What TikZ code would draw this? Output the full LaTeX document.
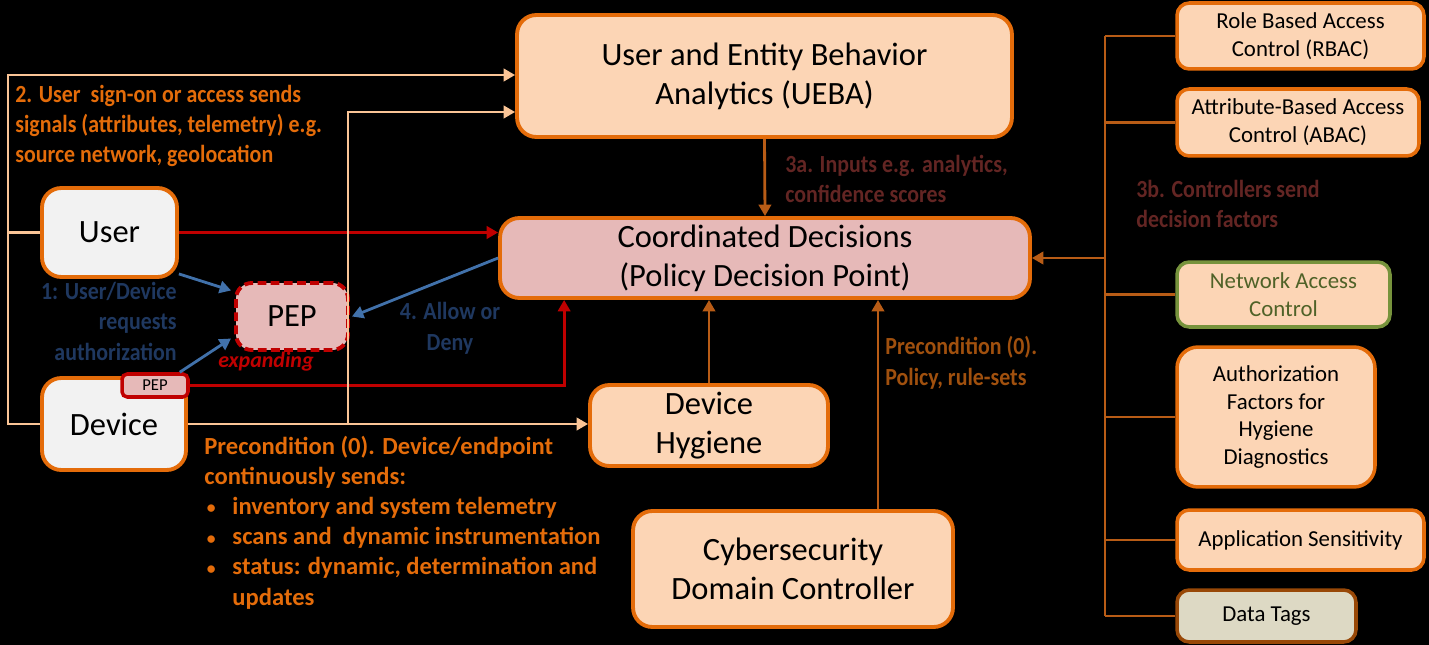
\documentclass[tikz,border=0pt]{standalone}
\usepackage{fontspec}
\setmainfont{Carlito}
\newfontfamily\condfont[FakeStretch=0.89]{Carlito}
\usetikzlibrary{arrows.meta,calc}
\definecolor{cOr}{RGB}{228,108,10}
\definecolor{cPeach}{RGB}{252,213,181}
\definecolor{cPink}{RGB}{230,185,184}
\definecolor{cGray}{RGB}{242,242,242}
\definecolor{cRed}{RGB}{192,0,0}
\definecolor{cBlue}{RGB}{65,113,170}
\definecolor{cNavy}{RGB}{31,56,96}
\definecolor{cMaroon}{RGB}{99,37,35}
\definecolor{cBrown}{RGB}{160,80,14}
\definecolor{cBus}{RGB}{184,92,22}
\definecolor{cSig}{RGB}{250,196,150}
\definecolor{cOlive}{RGB}{119,147,60}
\definecolor{cOliveT}{RGB}{79,98,40}
\definecolor{cTag}{RGB}{221,217,196}
\definecolor{cTagS}{RGB}{152,72,7}
\newcommand\fbig{\fontsize{18.5}{22.2}\selectfont}
\newcommand\fsmall{\fontsize{13}{15.9}\selectfont}
\newcommand\flab{\fontsize{14}{17.1}\selectfont\bfseries}
\newcommand\fcond{\fontsize{14}{17.1}\selectfont\condfont\bfseries}
\newcommand\bul{\makebox[16pt][l]{\hspace{1.5pt}\raisebox{0.5pt}{\fontsize{10}{10}\selectfont•}}}
\begin{document}
\begin{tikzpicture}[x=0.02cm,y=-0.02cm,
  box/.style={draw=cOr, line width=2.2pt, fill=cPeach, rounded corners=11pt, align=center, inner sep=0pt, font=\fbig},
  rbox/.style={box, rounded corners=7pt, font=\fsmall, line width=2pt},
  tipA/.tip={Triangle[length=6.5pt,width=7pt]},
  sig/.style={draw=cSig, line width=1.6pt},
  ctl/.style={draw=cBus, line width=1.6pt},
  redl/.style={draw=cRed, line width=1.6pt},
  bluel/.style={draw=cBlue, line width=1.6pt},
  lab/.style={inner sep=0pt, align=left}
]
\fill[black] (0,0) rectangle (1429,645);
\useasboundingbox (0,0) rectangle (1429,645);

% main boxes
\node[box, minimum width=9.9cm, minimum height=2.44cm] (ueba) at (764.5,76) {User and Entity Behavior\\Analytics (UEBA)};
\node[box, fill=cPink, minimum width=10.6cm, minimum height=1.6cm] (pdp) at (765,258) {Coordinated Decisions\\(Policy Decision Point)};
\node[box, fill=cGray, minimum width=2.7cm, minimum height=1.78cm] (user) at (109.5,232.5) {User};
\node[box, fill=cGray, minimum width=2.88cm, minimum height=1.84cm] (device) at (114,424) {Device};
\node[draw=cRed, fill=cPink, line width=2pt, rounded corners=3pt, inner sep=0pt, minimum width=1.32cm, minimum height=0.46cm, font=\fontsize{9.5}{11}\selectfont] (spep) at (155,385.5) {PEP};
\node[draw=cRed, fill=cPink, line width=2.2pt, dash pattern=on 5pt off 2.5pt, rounded corners=9pt, inner sep=0pt, minimum width=2.24cm, minimum height=1.34cm, font=\fbig] (pep) at (292,316.5) {PEP};
\node[inner sep=0pt, anchor=base, text=cRed, font=\fontsize{12.5}{15}\selectfont\bfseries\itshape] (exp) at (266,367) {expanding};
\node[box, minimum width=4.76cm, minimum height=1.62cm] (dh) at (709,425.5) {Device\\Hygiene};
\node[box, minimum width=6.4cm, minimum height=2.32cm] (cyber) at (793,569) {Cybersecurity\\Domain Controller};

% right column
\node[rbox, minimum width=4.94cm, minimum height=1.32cm] (rbac) at (1300.5,36) {Role Based Access\\Control (RBAC)};
\node[rbox, minimum width=4.84cm, minimum height=1.34cm] (abac) at (1298,122.5) {Attribute-Based Access\\Control (ABAC)};
\node[rbox, draw=cOlive, text=cOliveT, minimum width=4.26cm, minimum height=1.3cm] (nac) at (1283.5,294.5) {Network Access\\Control};
\node[rbox, rounded corners=12pt, minimum width=3.96cm, minimum height=2.8cm] (auth) at (1276,417) {Authorization\\Factors for\\Hygiene\\Diagnostics};
\node[rbox, minimum width=4.94cm, minimum height=1.2cm] (app) at (1300.5,540) {Application Sensitivity};
\node[rbox, draw=cTagS, fill=cTag, minimum width=3.58cm, minimum height=1.04cm] (tags) at (1266.5,616) {Data Tags};

% bus on the right
\coordinate (bt) at (1105,36);
\coordinate (bb) at (1105,616);
\draw[ctl] (bt) -- (bb);
\foreach \n in {rbac,abac,nac,auth,app,tags} \draw[ctl] (\n.west) -- (\n.west -| bt);
\draw[ctl,-tipA] (pdp.east -| bt) -- (pdp.east);

% brown arrows into PDP
\coordinate (cy) at ($(cyber.north)+(85,0)$);
\draw[ctl,-tipA] (ueba.south) -- (pdp.north);
\draw[ctl,-tipA] (dh.north) -- (dh.north |- pdp.south);
\draw[ctl,-tipA] (cy) -- (cy |- pdp.south);

% red arrows
\coordinate (rx) at ($(pdp.south west)+(66,0)$);
\draw[redl,-tipA] (user.east) -- (user.east -| pdp.west);
\draw[redl,-tipA] (spep.east) -| (rx);

% blue arrows
\draw[bluel,-tipA] ($(user.south east)+(0,-5)$) -- ($(pep.west)+(-3,-26)$);
\draw[bluel,-tipA] ($(spep.north east)+(-10,0)$) -- ($(pep.west)+(-3,22)$);
\draw[bluel,-tipA] (pdp.west) -- ($(pep.east)+(2,0)$);

% light signal lines
\coordinate (L1) at (8,75);
\coordinate (L3) at (348,112);
\draw[sig] (user.west) -- (user.west -| L1);
\draw[sig,-tipA] (device.west) -- (device.west -| L1) -- (L1) -- (L1 -| ueba.west);
\draw[sig,-tipA] (device.east) -- (device.east -| dh.west);
\draw[sig,-tipA] (device.east -| L3) -- (L3) -- (L3 -| ueba.west);

% labels (base anchor = baseline of last line)
\node[lab, anchor=base west, text=cOr, font=\fcond] (t2) at (15,163) {2. User\ \ sign-on or access sends\\signals (attributes, telemetry) e.g.\\source network, geolocation};
\node[lab, anchor=base east, align=right, text=cNavy, font=\fcond] (t1) at (177,360) {1: User/Device\\requests\\authorization};
\node[lab, anchor=base, align=center, text=cNavy, font=\fcond] (t4) at (450,350) {4. Allow or\\Deny};
\node[lab, anchor=base west, text=cMaroon, font=\fcond] (t3a) at (785,203) {3a. Inputs e.g. analytics,\\confidence scores};
\node[lab, anchor=base west, text=cMaroon, font=\fcond] (t3b) at (1136,228) {3b. Controllers send\\decision factors};
\node[lab, anchor=base west, text=cBrown, font=\fcond] (tp) at (885,385) {Precondition (0).\\Policy, rule-sets};
\node[lab, anchor=base west, text=cOr, font=\flab] (td) at (204,605) {Precondition (0). Device/endpoint\\continuously sends:\\\bul inventory and system telemetry\\\bul scans and\ \ dynamic instrumentation\\\bul status: dynamic, determination and\\\hspace*{16pt}updates};
\end{tikzpicture}
\end{document}
